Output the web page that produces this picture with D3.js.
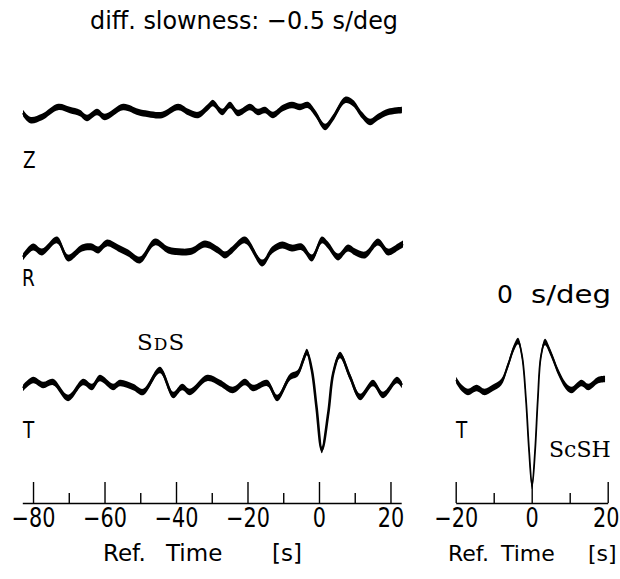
<!DOCTYPE html>
<html>
<head>
<meta charset="utf-8">
<script src="https://cdn.jsdelivr.net/npm/d3@7"></script>
<style>
  html, body { margin: 0; padding: 0; background: #fff; }
  svg { display: block; }
  .sans { font-family: "DejaVu Sans", sans-serif; fill: #000; }
  .serif { font-family: "DejaVu Serif", "Liberation Serif", serif; fill: #000; }
</style>
</head>
<body>
<svg id="chart" width="620" height="579"></svg>
<script>
// ---- data (time in s, amplitude in arbitrary units) ----
const zTime = [-82.8,-80.8,-77.5,-73.0,-69.7,-66.9,-64.9,-62.1,-59.9,-54.8,-50.6,-47.8,-43.9,-39.4,-36.6,-33.8,-31.0,-29.7,-27.1,-24.9,-22.7,-19.3,-17.1,-15.1,-12.9,-10.1,-7.6,-5.3,-3.1,-1.1,1.7,3.9,7.3,9.5,12.0,14.3,16.5,19.3,23.2];
const zAmp  = [-0.1,-0.8,-0.5,0.5,0.2,-0.1,-0.6,0,-0.5,0.5,0,-0.2,-0.3,0.5,0,-0.3,0.5,0.9,0,0.7,-0.1,0.5,0,0.2,-0.3,0.4,0.7,0.5,0.7,-0.1,-1.5,-0.6,1.2,0.9,-0.3,-1.0,-0.5,0,0.2];

const rTime = [-82.8,-80.0,-77.5,-73.3,-70.2,-66.3,-63.5,-61.8,-59.3,-56.2,-53.4,-50.1,-45.9,-42.2,-38.3,-35.5,-31.9,-28.3,-26.3,-24.3,-20.7,-15.9,-13.1,-10.3,-7.6,-4.8,-2.0,0.8,2.5,5.3,8.1,10.1,12.9,16.5,19.3,22.1,23.5];
const rAmp  = [-0.7,0.3,-0.2,1.0,-0.8,0.2,0.3,0,0.7,0.2,-0.3,-1.0,0.8,0,-0.2,-0.1,0.6,0,-0.5,0,1.0,-1.3,0,0.5,0.2,0.3,-0.8,1.0,0.5,-0.7,0.2,-0.2,-0.5,0.8,-0.2,0.3,0.6];

const tTime = [-82.8,-80.0,-77.2,-74.4,-70.2,-66.0,-63.5,-61.3,-57.6,-55.7,-52.0,-49.2,-44.5,-40.8,-38.3,-36.1,-31.3,-27.7,-24.1,-20.7,-18.5,-14.5,-11.7,-8.1,-5.9,-4.4,-3.4,-2.0,-0.7,0.8,2.6,4.0,5.9,8.7,11.5,15.1,17.9,21.8,23.2];
const tAmp  = [-0.2,0.6,0.1,0.4,-1.2,0.4,-0.1,0.8,-0.1,0.3,-0.1,-0.6,1.6,-0.9,-0.1,-0.6,0.8,0.3,-0.4,0.4,-0.2,0.3,-1.2,0.9,1.3,2.6,3.4,1.6,-2.1,-6.4,-2.7,1.3,3.1,0.9,-1.1,0.3,-0.9,0.6,0.1];

const t0Time = [-19.9,-18.4,-16.8,-14.5,-12.4,-10.3,-8.0,-6.4,-4.6,-3.6,-2.5,-1.5,-0.7,0.1,0.9,1.6,2.4,3.5,5.0,7.1,9.2,10.5,13.1,14.9,17.5,19.3];
const t0Amp  = [0.6,-0.2,-0.6,-0.2,-0.6,-0.2,0.4,1.9,3.9,4.5,2.9,-1.4,-6.4,-10.0,-6.4,-1.4,2.9,4.4,3.3,1.3,-0.1,-0.4,0.3,-0.1,0.6,0.7];

const leftMajorTicks  = [-80,-60,-40,-20,0,20];
const leftMinorTicks  = [-70,-50,-30,-10,10];
const rightMajorTicks = [-20,0,20];
const rightMinorTicks = [-10,10];

const titleText = "diff. slowness: \u22120.5 s/deg";
const subTitleWords = ["0", "s/deg"];
const axisTitleWords = ["Ref.", "Time", "[s]"];

// ---- drawing ----
const svg = d3.select("#chart");

const xL = d3.scaleLinear().domain([-83, 23]).range([22.3, 401.2]);
const xR = d3.scaleLinear().domain([-20, 20]).range([455.7, 607.7]);

function yScale(base) { return d3.scaleLinear().domain([-1, 1]).range([base + 10, base - 10]); }

function drawTrace(times, amps, x, y, half, sw) {
  const data = times.map((t, i) => ({ t: t, a: amps[i] }));
  const area = d3.area()
    .x(d => x(d.t))
    .y0(d => y(d.a) + half)
    .y1(d => y(d.a) - half)
    .curve(d3.curveCatmullRom.alpha(0.5));
  const line = d3.line()
    .x(d => x(d.t))
    .y(d => y(d.a))
    .curve(d3.curveCatmullRom.alpha(0.5));
  svg.append("path").attr("d", area(data)).attr("fill", "#000");
  svg.append("path").attr("d", line(data)).attr("fill", "none")
    .attr("stroke", "#000").attr("stroke-width", sw).attr("stroke-linejoin", "round");
}

drawTrace(zTime, zAmp, xL, yScale(112), 3.2, 2.4);
drawTrace(rTime, rAmp, xL, yScale(250), 3.4, 2.4);
drawTrace(tTime, tAmp, xL, yScale(386), 3.2, 2.6);
drawTrace(t0Time, t0Amp, xR, yScale(386), 3.2, 1.8);

// squeezed text helper (mimics the condensed face of the original)
function condText(x, y, size, sx, str) {
  const g = svg.append("g").attr("transform", `translate(${x},${y}) scale(${sx},1)`);
  return g.append("text").attr("class", "sans").attr("font-size", size).text(str);
}

// axes
const TSX = 0.8;
function drawAxis(x, major, minor) {
  const g = svg.append("g").attr("transform", "translate(0,503)");
  g.call(d3.axisBottom(x).tickValues(major).tickSizeInner(-21).tickSizeOuter(0).tickPadding(6));
  g.select(".domain").attr("stroke-width", 1.6);
  g.selectAll(".tick line").attr("stroke-width", 1.4);
  g.selectAll(".tick text")
    .attr("fill", "#000").attr("font-size", 26)
    .style("font-family", "'DejaVu Sans',sans-serif")
    .attr("transform", `scale(${TSX},1)`)
    .attr("x", d => (x(d) > 600 ? -2 / TSX : 0));
  const gm = svg.append("g").attr("transform", "translate(0,503)");
  gm.call(d3.axisBottom(x).tickValues(minor).tickSizeInner(-10).tickSizeOuter(0).tickFormat(""));
  gm.select(".domain").remove();
  gm.selectAll(".tick line").attr("stroke-width", 1.4);
}
drawAxis(xL, leftMajorTicks, leftMinorTicks);
drawAxis(xR, rightMajorTicks, rightMinorTicks);

// titles
svg.append("text").attr("class", "sans").attr("x", 90).attr("y", 29)
  .attr("font-size", 25).attr("textLength", 308).attr("lengthAdjust", "spacingAndGlyphs").text(titleText);

const sub = svg.append("text").attr("class", "sans").attr("y", 303).attr("font-size", 25);
sub.append("tspan").attr("x", 497).text(subTitleWords[0]);
sub.append("tspan").attr("x", 531).attr("textLength", 80).attr("lengthAdjust", "spacingAndGlyphs").text(subTitleWords[1]);

function axisTitle(positions, size) {
  const t = svg.append("text").attr("class", "sans").attr("y", 561).attr("font-size", size);
  axisTitleWords.forEach((w, i) => t.append("tspan").attr("x", positions[i]).text(w));
}
axisTitle([103, 166, 272], 23);
axisTitle([448, 501, 588], 22);

// component labels
condText(23, 168, 23, 0.8, "Z");
condText(22, 286, 23, 0.8, "R");
condText(23, 438, 23, 0.8, "T");
condText(456, 438, 23, 0.8, "T");

const sds = svg.append("text").attr("class", "serif").attr("x", 137).attr("y", 350)
  .attr("font-size", 23).attr("letter-spacing", 1);
sds.append("tspan").text("S");
sds.append("tspan").attr("font-size", 17).text("D");
sds.append("tspan").text("S");

svg.append("text").attr("class", "serif").attr("x", 549).attr("y", 457)
  .attr("font-size", 22).text("ScSH");
</script>
</body>
</html>
